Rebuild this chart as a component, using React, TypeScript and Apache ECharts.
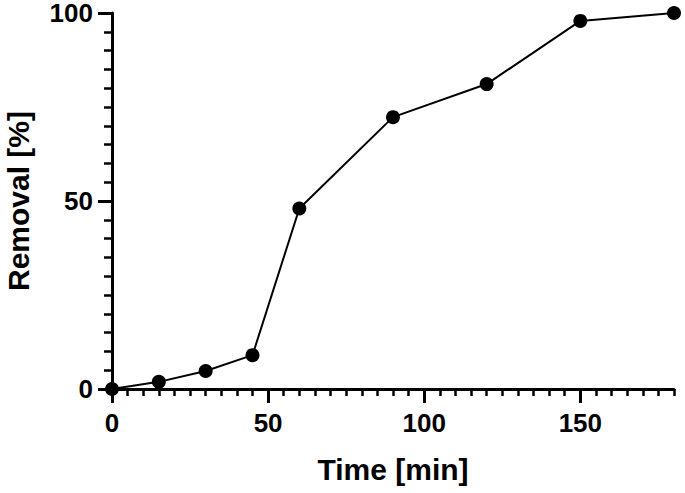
import React, { useEffect, useRef } from "react";
import * as echarts from "echarts";

const timeMin = [0, 15, 30, 45, 60, 90, 120, 150, 180];
const removalPct = [0, 1.9, 4.8, 9.0, 48, 72.3, 81.1, 97.9, 100];
const xMajorTicks = [0, 50, 100, 150];
const yMajorTicks = [0, 50, 100];

const FONT = "'Liberation Sans', Arial, Helvetica, sans-serif";

export default function App() {
  const ref = useRef<HTMLDivElement>(null);
  useEffect(() => {
    if (!ref.current) return;
    const chart = echarts.init(ref.current, null, { renderer: "svg" });
    const data = timeMin.map((t, i) => [t, removalPct[i]]);
    chart.setOption({
      animation: false,
      backgroundColor: "#ffffff",
      grid: { left: 112, right: 11, top: 13, bottom: 104, containLabel: false, outerBoundsMode: "none" },
      xAxis: [
        {
          type: "value",
          min: 0,
          max: 180,
          interval: 50,
          name: "Time [min]",
          nameLocation: "middle",
          nameGap: 65,
          nameTextStyle: { fontFamily: FONT, fontWeight: "bold", fontSize: 30, color: "#000" },
          axisLine: { show: true, onZero: false, lineStyle: { color: "#000", width: 3 } },
          axisTick: { show: true, length: 14, lineStyle: { color: "#000", width: 3 }, customValues: xMajorTicks },
          axisLabel: {
            show: true,
            margin: 22,
            fontFamily: FONT,
            fontWeight: "bold",
            fontSize: 26,
            lineHeight: 24,
            color: "#000",
            customValues: xMajorTicks,
          },
          splitLine: { show: false },
        },
        {
          type: "value",
          min: 0,
          max: 180,
          interval: 5,
          position: "bottom",
          axisLine: { show: false },
          axisTick: { show: true, interval: 0, length: 7, lineStyle: { color: "#000", width: 2.5 } },
          axisLabel: { show: false },
          splitLine: { show: false },
        },
      ],
      yAxis: [
        {
          type: "value",
          min: 0,
          max: 100,
          interval: 50,
          name: "Removal [%]",
          nameLocation: "middle",
          nameGap: 79,
          nameTextStyle: { fontFamily: FONT, fontWeight: "bold", fontSize: 30, color: "#000" },
          axisLine: { show: true, onZero: false, lineStyle: { color: "#000", width: 3 } },
          axisTick: { show: true, length: 14, lineStyle: { color: "#000", width: 3 }, customValues: yMajorTicks },
          axisLabel: {
            show: true,
            margin: 19,
            fontFamily: FONT,
            fontWeight: "bold",
            fontSize: 26,
            lineHeight: 24,
            color: "#000",
            customValues: yMajorTicks,
          },
          splitLine: { show: false },
        },
        {
          type: "value",
          min: 0,
          max: 100,
          interval: 5,
          position: "left",
          axisLine: { show: false },
          axisTick: { show: true, interval: 0, length: 8, lineStyle: { color: "#000", width: 2.5 } },
          axisLabel: { show: false },
          splitLine: { show: false },
        },
      ],
      series: [
        {
          type: "line",
          xAxisIndex: 0,
          yAxisIndex: 0,
          data,
          clip: false,
          symbol: "circle",
          symbolSize: 14,
          lineStyle: { color: "#000", width: 2 },
          itemStyle: { color: "#000" },
          z: 5,
        },
      ],
    });
    return () => chart.dispose();
  }, []);
  return <div ref={ref} style={{ width: 685, height: 493, position: "absolute", left: 0, top: 0 }} />;
}
